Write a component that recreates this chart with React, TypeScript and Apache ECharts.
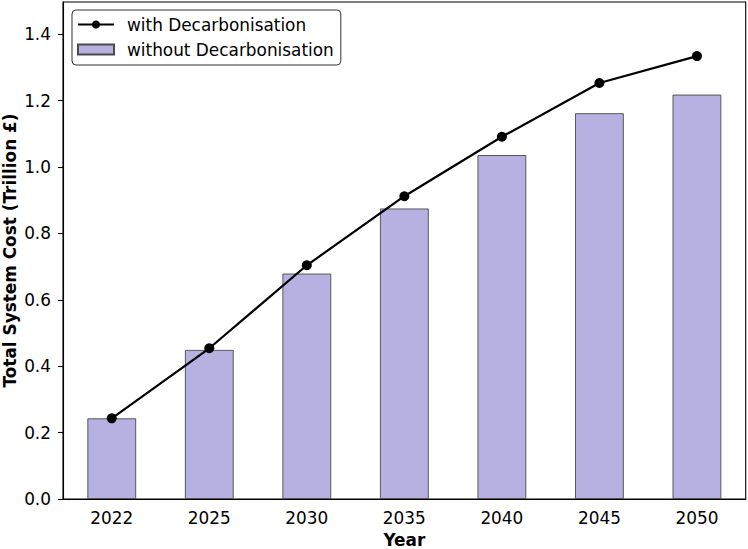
import React, { useEffect, useRef } from "react";
import * as echarts from "echarts";

const years = ["2022", "2025", "2030", "2035", "2040", "2045", "2050"];
const withDecarb = [0.243, 0.454, 0.704, 0.912, 1.091, 1.253, 1.334];
const withoutDecarb = [0.243, 0.449, 0.679, 0.875, 1.036, 1.162, 1.218];
const yTicks = [0, 0.2, 0.4, 0.6, 0.8, 1.0, 1.2, 1.4];

const FONT = "DejaVu Sans";
const FS = 16.9;

export default function App() {
  const ref = useRef<HTMLDivElement>(null);
  useEffect(() => {
    if (!ref.current) return;
    const chart = echarts.init(ref.current, null, { renderer: "svg" });
    chart.setOption({
      animation: false,
      textStyle: { fontFamily: FONT },
      grid: {
        left: 63,
        right: 2.3,
        top: 2,
        bottom: 50,
        show: true,
        borderColor: "#000",
        borderWidth: 1.1,
        containLabel: false,
        outerBoundsMode: "none",
      },
      legend: {
        orient: "vertical",
        left: 72,
        top: 10,
        padding: [5, 7, 6, 5],
        itemGap: 6,
        itemWidth: 36,
        itemHeight: 10,
        borderColor: "#333",
        borderWidth: 1,
        borderRadius: 4,
        backgroundColor: "#fff",
        textStyle: {
          fontFamily: FONT,
          fontSize: FS,
          color: "#000",
          lineHeight: 19,
          padding: [0, 0, 0, 8],
        },
        data: [
          { name: "with Decarbonisation" },
          { name: "without Decarbonisation", icon: "rect" },
        ],
      },
      xAxis: {
        type: "category",
        data: years,
        name: "Year",
        nameLocation: "middle",
        nameGap: 32,
        nameMoveOverlap: false,
        nameTextStyle: { fontFamily: FONT, fontSize: FS, fontWeight: "bold", color: "#000", lineHeight: 18 },
        axisLine: { lineStyle: { color: "#000", width: 1.1 } },
        axisTick: { alignWithLabel: true, length: 5, lineStyle: { color: "#000", width: 1.1 } },
        axisLabel: { fontFamily: FONT, fontSize: FS, color: "#000", margin: 10 },
      },
      yAxis: {
        type: "value",
        min: 0,
        max: 1.497,
        interval: 0.2,
        name: "Total System Cost (Trillion £)",
        nameLocation: "middle",
        nameGap: 44,
        nameMoveOverlap: false,
        nameTextStyle: { fontFamily: FONT, fontSize: FS, fontWeight: "bold", color: "#000", lineHeight: 18 },
        splitLine: { show: false },
        axisLine: { show: true, lineStyle: { color: "#000", width: 1.1 } },
        axisTick: { show: true, length: 5, customValues: yTicks, lineStyle: { color: "#000", width: 1.1 } },
        axisLabel: {
          fontFamily: FONT,
          fontSize: FS,
          color: "#000",
          margin: 12,
          customValues: yTicks,
          formatter: (v: number) => v.toFixed(1),
        },
      },
      series: [
        {
          name: "without Decarbonisation",
          type: "bar",
          data: withoutDecarb,
          barWidth: "50%",
          itemStyle: { color: "#b6b1e0", borderColor: "#4a4a4a", borderWidth: 0.9 },
          z: 1,
        },
        {
          name: "with Decarbonisation",
          type: "line",
          data: withDecarb,
          symbol: "circle",
          symbolSize: 10,
          lineStyle: { color: "#000", width: 2.2 },
          itemStyle: { color: "#000" },
          z: 3,
        },
      ],
    });
    return () => chart.dispose();
  }, []);
  return <div ref={ref} style={{ width: 748, height: 549, position: "absolute", left: 0, top: 0 }} />;
}
